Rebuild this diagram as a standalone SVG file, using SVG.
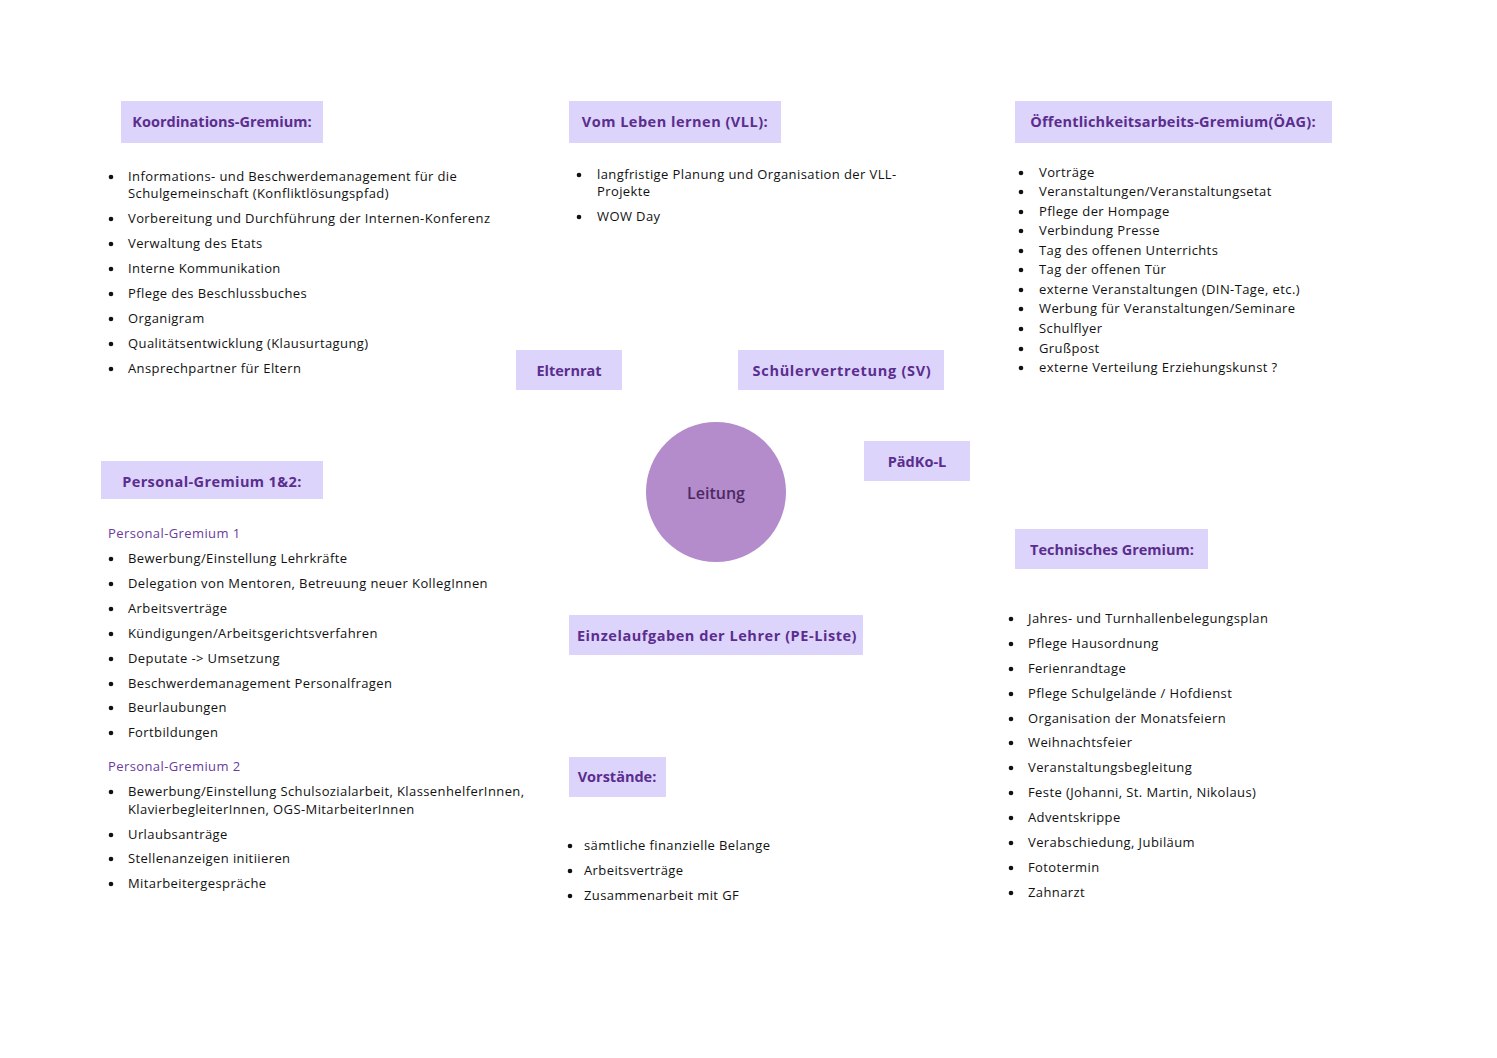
<svg xmlns="http://www.w3.org/2000/svg" width="1497" height="1058" viewBox="0 0 1497 1058">
<style>
.box{fill:#dcd4fb}
.hd{font-family:"Open Sans","Liberation Sans",sans-serif;font-size:14.5px;font-weight:700;fill:#5b2d8e;text-anchor:middle}
.li{font-family:"Open Sans","Liberation Sans",sans-serif;font-size:13px;letter-spacing:0.4px;fill:#111}
.sub{font-family:"Open Sans","Liberation Sans",sans-serif;font-size:13px;letter-spacing:0.4px;fill:#6a3c9c}
.b{fill:#111}
</style>
<rect width="1497" height="1058" fill="#fff"/>
<g id="connectors"/>

<g id="koordination">
<rect class="box" x="121" y="101" width="202" height="42"/>
<text class="hd" x="222" y="127">Koordinations-Gremium:</text>
<g class="b"><circle cx="111" cy="177" r="2.3"/><circle cx="111" cy="219" r="2.3"/><circle cx="111" cy="244" r="2.3"/><circle cx="111" cy="269" r="2.3"/><circle cx="111" cy="294" r="2.3"/><circle cx="111" cy="319" r="2.3"/><circle cx="111" cy="344" r="2.3"/><circle cx="111" cy="369" r="2.3"/></g>
<text class="li" x="128" y="181">Informations- und Beschwerdemanagement für die</text>
<text class="li" x="128" y="198">Schulgemeinschaft (Konfliktlösungspfad)</text>
<text class="li" x="128" y="223">Vorbereitung und Durchführung der Internen-Konferenz</text>
<text class="li" x="128" y="248">Verwaltung des Etats</text>
<text class="li" x="128" y="273">Interne Kommunikation</text>
<text class="li" x="128" y="298">Pflege des Beschlussbuches</text>
<text class="li" x="128" y="323">Organigram</text>
<text class="li" x="128" y="348">Qualitätsentwicklung (Klausurtagung)</text>
<text class="li" x="128" y="373">Ansprechpartner für Eltern</text>
</g>

<g id="vll">
<rect class="box" x="569" y="101" width="212" height="42"/>
<text class="hd" x="675" y="127" letter-spacing="0.5">Vom Leben lernen (VLL):</text>
<g class="b"><circle cx="579" cy="175" r="2.3"/><circle cx="579" cy="217" r="2.3"/></g>
<text class="li" x="597" y="179">langfristige Planung und Organisation der VLL-</text>
<text class="li" x="597" y="196">Projekte</text>
<text class="li" x="597" y="221">WOW Day</text>
</g>

<g id="oeag">
<rect class="box" x="1015" y="101" width="317" height="42"/>
<text class="hd" x="1173" y="127" letter-spacing="0.2">Öffentlichkeitsarbeits-Gremium(ÖAG):</text>
<g class="b"><circle cx="1021" cy="173" r="2.3"/><circle cx="1021" cy="192" r="2.3"/><circle cx="1021" cy="212" r="2.3"/><circle cx="1021" cy="231" r="2.3"/><circle cx="1021" cy="251" r="2.3"/><circle cx="1021" cy="270" r="2.3"/><circle cx="1021" cy="290" r="2.3"/><circle cx="1021" cy="309" r="2.3"/><circle cx="1021" cy="329" r="2.3"/><circle cx="1021" cy="349" r="2.3"/><circle cx="1021" cy="368" r="2.3"/></g>
<text class="li" x="1039" y="177">Vorträge</text>
<text class="li" x="1039" y="196">Veranstaltungen/Veranstaltungsetat</text>
<text class="li" x="1039" y="216">Pflege der Hompage</text>
<text class="li" x="1039" y="235">Verbindung Presse</text>
<text class="li" x="1039" y="255">Tag des offenen Unterrichts</text>
<text class="li" x="1039" y="274">Tag der offenen Tür</text>
<text class="li" x="1039" y="294">externe Veranstaltungen (DIN-Tage, etc.)</text>
<text class="li" x="1039" y="313">Werbung für Veranstaltungen/Seminare</text>
<text class="li" x="1039" y="333">Schulflyer</text>
<text class="li" x="1039" y="353">Grußpost</text>
<text class="li" x="1039" y="372">externe Verteilung Erziehungskunst ?</text>
</g>

<g id="elternrat">
<rect class="box" x="516" y="350" width="106" height="40"/>
<text class="hd" x="569" y="376">Elternrat</text>
</g>

<g id="sv">
<rect class="box" x="738" y="350" width="206" height="40"/>
<text class="hd" x="842" y="376" letter-spacing="0.7">Schülervertretung (SV)</text>
</g>

<g id="paedko">
<rect class="box" x="864" y="441" width="106" height="40"/>
<text class="hd" x="917" y="467">PädKo-L</text>
</g>

<g id="leitung">
<circle cx="716" cy="492" r="70" fill="#b48bcb"/>
<text x="716" y="499" text-anchor="middle" font-family="'Open Sans','Liberation Sans',sans-serif" font-size="16" font-weight="600" fill="#4b2a63">Leitung</text>
</g>

<g id="personal">
<rect class="box" x="101" y="461" width="222" height="38"/>
<text class="hd" x="212" y="487" letter-spacing="0.4">Personal-Gremium 1&amp;2:</text>
<text class="sub" x="108" y="538">Personal-Gremium 1</text>
<g class="b"><circle cx="111" cy="559" r="2.3"/><circle cx="111" cy="584" r="2.3"/><circle cx="111" cy="609" r="2.3"/><circle cx="111" cy="634" r="2.3"/><circle cx="111" cy="659" r="2.3"/><circle cx="111" cy="684" r="2.3"/><circle cx="111" cy="708" r="2.3"/><circle cx="111" cy="733" r="2.3"/></g>
<text class="li" x="128" y="563">Bewerbung/Einstellung Lehrkräfte</text>
<text class="li" x="128" y="588">Delegation von Mentoren, Betreuung neuer KollegInnen</text>
<text class="li" x="128" y="613">Arbeitsverträge</text>
<text class="li" x="128" y="638">Kündigungen/Arbeitsgerichtsverfahren</text>
<text class="li" x="128" y="663">Deputate -&gt; Umsetzung</text>
<text class="li" x="128" y="688">Beschwerdemanagement Personalfragen</text>
<text class="li" x="128" y="712">Beurlaubungen</text>
<text class="li" x="128" y="737">Fortbildungen</text>
<text class="sub" x="108" y="771">Personal-Gremium 2</text>
<g class="b"><circle cx="111" cy="792" r="2.3"/><circle cx="111" cy="835" r="2.3"/><circle cx="111" cy="859" r="2.3"/><circle cx="111" cy="884" r="2.3"/></g>
<text class="li" x="128" y="796">Bewerbung/Einstellung Schulsozialarbeit, KlassenhelferInnen,</text>
<text class="li" x="128" y="814">KlavierbegleiterInnen, OGS-MitarbeiterInnen</text>
<text class="li" x="128" y="839">Urlaubsanträge</text>
<text class="li" x="128" y="863">Stellenanzeigen initiieren</text>
<text class="li" x="128" y="888">Mitarbeitergespräche</text>
</g>

<g id="einzelaufgaben">
<rect class="box" x="569" y="615" width="294" height="40"/>
<text class="hd" x="717" y="641" letter-spacing="0.55">Einzelaufgaben der Lehrer (PE-Liste)</text>
</g>

<g id="vorstaende">
<rect class="box" x="569" y="757" width="97" height="40"/>
<text class="hd" x="617" y="782">Vorstände:</text>
<g class="b"><circle cx="570" cy="846" r="2.3"/><circle cx="570" cy="871" r="2.3"/><circle cx="570" cy="896" r="2.3"/></g>
<text class="li" x="584" y="850">sämtliche finanzielle Belange</text>
<text class="li" x="584" y="875">Arbeitsverträge</text>
<text class="li" x="584" y="900">Zusammenarbeit mit GF</text>
</g>

<g id="technisch">
<rect class="box" x="1015" y="529" width="193" height="40"/>
<text class="hd" x="1112" y="555">Technisches Gremium:</text>
<g class="b"><circle cx="1011" cy="619" r="2.3"/><circle cx="1011" cy="644" r="2.3"/><circle cx="1011" cy="669" r="2.3"/><circle cx="1011" cy="694" r="2.3"/><circle cx="1011" cy="719" r="2.3"/><circle cx="1011" cy="743" r="2.3"/><circle cx="1011" cy="768" r="2.3"/><circle cx="1011" cy="793" r="2.3"/><circle cx="1011" cy="818" r="2.3"/><circle cx="1011" cy="843" r="2.3"/><circle cx="1011" cy="868" r="2.3"/><circle cx="1011" cy="893" r="2.3"/></g>
<text class="li" x="1028" y="623">Jahres- und Turnhallenbelegungsplan</text>
<text class="li" x="1028" y="648">Pflege Hausordnung</text>
<text class="li" x="1028" y="673">Ferienrandtage</text>
<text class="li" x="1028" y="698">Pflege Schulgelände / Hofdienst</text>
<text class="li" x="1028" y="723">Organisation der Monatsfeiern</text>
<text class="li" x="1028" y="747">Weihnachtsfeier</text>
<text class="li" x="1028" y="772">Veranstaltungsbegleitung</text>
<text class="li" x="1028" y="797">Feste (Johanni, St. Martin, Nikolaus)</text>
<text class="li" x="1028" y="822">Adventskrippe</text>
<text class="li" x="1028" y="847">Verabschiedung, Jubiläum</text>
<text class="li" x="1028" y="872">Fototermin</text>
<text class="li" x="1028" y="897">Zahnarzt</text>
</g>
</svg>
